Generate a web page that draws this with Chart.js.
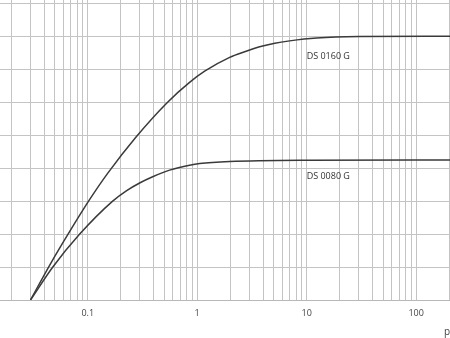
<!DOCTYPE html>
<html>
<head>
<meta charset="utf-8">
<script src="https://cdn.jsdelivr.net/npm/chart.js@4/dist/chart.umd.min.js"></script>
<style>
  html, body { margin: 0; padding: 0; background: #fff; }
  #wrap { width: 450px; height: 338px; }
</style>
</head>
<body>
<div id="wrap"><canvas id="curveChart"></canvas></div>
<script>
// curve readings (x is p on log axis)
const upperX = [0.03, 0.045, 0.0685, 0.1043, 0.152, 0.274, 0.537, 0.852, 1.17, 1.98, 2.72, 3.72, 5.12, 6.99, 12.3, 30, 204];
const upperY = [0, 1.06, 2.08, 3.05, 3.84, 4.93, 6.0, 6.6, 6.94, 7.36, 7.53, 7.68, 7.79, 7.86, 7.945, 7.99, 8.0];
const lowerX = [0.03, 0.048, 0.0845, 0.169, 0.227, 0.298, 0.392, 0.56, 0.852, 1.055, 1.98, 10, 204];
const lowerY = [0, 1.0, 2.0, 3.0, 3.32, 3.55, 3.74, 3.94, 4.09, 4.14, 4.2, 4.24, 4.25];

const seriesNames = ["DS 0160 G", "DS 0080 G"];
const labelAnchorX = [10, 10];
const labelAnchorY = [7.39, 3.76];

const xGridValues = [
  0.02, 0.03, 0.04, 0.05, 0.06, 0.07, 0.08, 0.09,
  0.1, 0.2, 0.3, 0.4, 0.5, 0.6, 0.7, 0.8, 0.9,
  1, 2, 3, 4, 5, 6, 7, 8, 9,
  10, 20, 30, 40, 50, 60, 70, 80, 90,
  100, 200,
];
const xLabelValues = [0.1, 1, 10, 100];
const yGridValues = [0, 1, 2, 3, 4, 5, 6, 7, 8, 9];

function toPoints(xs, ys) {
  return xs.map((x, i) => ({ x: x, y: ys[i] }));
}

const curveLabels = {
  id: "curveLabels",
  afterDatasetsDraw(chart) {
    const ctx = chart.ctx;
    const xs = chart.scales.x;
    const ys = chart.scales.y;
    ctx.save();
    ctx.font = "9px 'Open Sans'";
    ctx.fillStyle = "#333";
    ctx.textAlign = "left";
    ctx.textBaseline = "middle";
    for (let i = 0; i < seriesNames.length; i++) {
      ctx.fillText(seriesNames[i], xs.getPixelForValue(labelAnchorX[i]), ys.getPixelForValue(labelAnchorY[i]));
    }
    ctx.restore();
  },
};

window.addEventListener("load", () => {
  const ctx = document.getElementById("curveChart").getContext("2d");
  const lineStyle = {
    borderColor: "#3a3a3a",
    borderWidth: 1.5,
    pointRadius: 0,
    fill: false,
    cubicInterpolationMode: "monotone",
  };
  new Chart(ctx, {
    type: "line",
    data: {
      datasets: [
        Object.assign({ label: seriesNames[0], data: toPoints(upperX, upperY) }, lineStyle),
        Object.assign({ label: seriesNames[1], data: toPoints(lowerX, lowerY) }, lineStyle),
      ],
    },
    options: {
      responsive: true,
      maintainAspectRatio: false,
      animation: false,
      layout: { padding: 0 },
      plugins: {
        legend: { display: false },
        tooltip: { enabled: false },
      },
      scales: {
        x: {
          type: "logarithmic",
          min: 0.0158,
          max: 204,
          afterBuildTicks: (scale) => {
            scale.ticks = xGridValues.map((v) => ({ value: v }));
          },
          afterFit: (scale) => {
            scale.height = 38;
            // let the plot run to both canvas edges
            scale.paddingLeft = 0;
            scale.paddingRight = 0;
          },
          grid: { color: "#c4c4c4", lineWidth: 1, drawTicks: false },
          border: { color: "#b8b8b8", width: 1 },
          ticks: {
            autoSkip: false,
            maxRotation: 0,
            padding: 8,
            color: "#444",
            font: { family: "'Open Sans'", size: 9 },
            callback: (value) => (xLabelValues.includes(value) ? String(value) : ""),
          },
          title: {
            display: true,
            text: "p",
            align: "end",
            color: "#444",
            font: { family: "'Open Sans'", size: 10 },
            padding: { top: 2, bottom: 0 },
          },
        },
        y: {
          type: "linear",
          min: 0,
          max: 9.1,
          afterBuildTicks: (scale) => {
            scale.ticks = yGridValues.map((v) => ({ value: v }));
          },
          afterFit: (scale) => {
            scale.width = 0;
          },
          grid: { color: "#c4c4c4", lineWidth: 1, drawTicks: false },
          border: { display: false },
          ticks: { display: false },
        },
      },
    },
    plugins: [curveLabels],
  });
});
</script>
</body>
</html>
